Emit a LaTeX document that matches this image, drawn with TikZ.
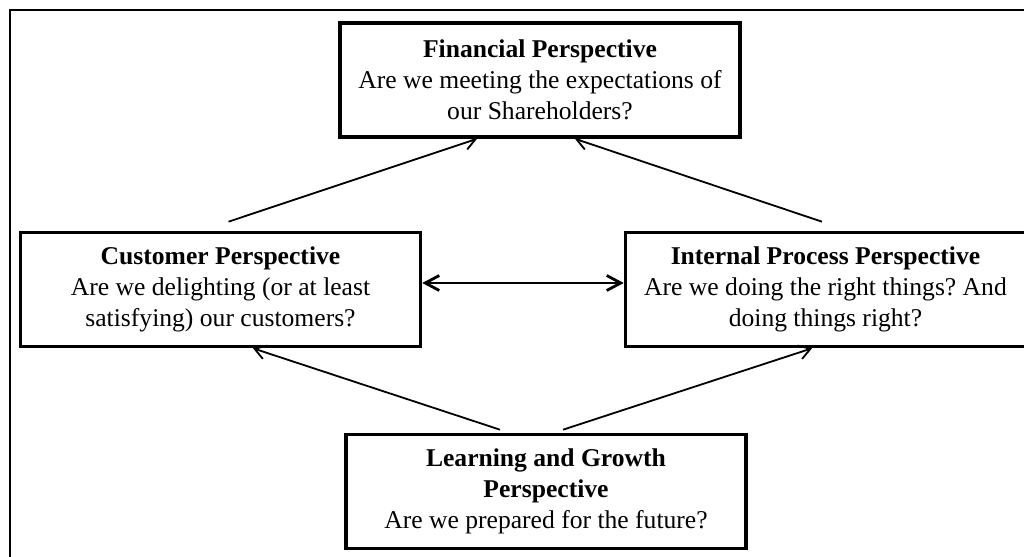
\documentclass[tikz,border=0pt]{standalone}
\usepackage{fontspec}
\setmainfont{Liberation Serif}
\usetikzlibrary{arrows.meta}
\frenchspacing

\begin{document}
\begin{tikzpicture}[x=0.5pt, y=-0.5pt, >={Straight Barb[length=5.5pt,width=7pt]},
  persp/.style={draw, line width=1.8pt, minimum width=200pt, minimum height=57pt, inner sep=0pt, align=center, font=\fontsize{12.8pt}{15.5pt}\selectfont},
  link/.style={->, line width=0.9pt}]
\useasboundingbox (0,0) rectangle (1024,557);
\clip (0,0) rectangle (1024,557);
\draw[line width=1.1pt] (10,10) rectangle (1060,600);
\node (fin) at (540,80) [persp] {\textbf{Financial Perspective}\\Are we meeting the expectations of\\our Shareholders?};
\node (cus) at (220.5,289.5) [persp] {\textbf{Customer Perspective}\\Are we delighting (or at least\\satisfying) our customers?};
\node (int) at (825.5,289.5) [persp] {\textbf{Internal Process Perspective}\\Are we doing the right things? And\\doing things right?};
\node (lrn) at (546,491.5) [persp] {\textbf{Learning and Growth}\\\textbf{Perspective}\\Are we prepared for the future?};
\draw[link] ([xshift=4pt,yshift=4.5pt]cus.north) -- ([xshift=-31.5pt]fin.south);
\draw[link] ([xshift=-1.75pt,yshift=4.5pt]int.north) -- ([xshift=17.5pt]fin.south);
\draw[link] ([xshift=-23pt,yshift=1.5pt]lrn.north) -- ([xshift=16.25pt]cus.south);
\draw[link] ([xshift=8.5pt,yshift=1.5pt]lrn.north) -- ([xshift=-6.75pt]int.south);
\draw[{Straight Barb[length=7pt,width=7.5pt]}-{Straight Barb[length=7pt,width=7.5pt]}, line width=1.4pt] ([yshift=3.25pt]cus.east) -- ([yshift=3.25pt]int.west);
\end{tikzpicture}
\end{document}
